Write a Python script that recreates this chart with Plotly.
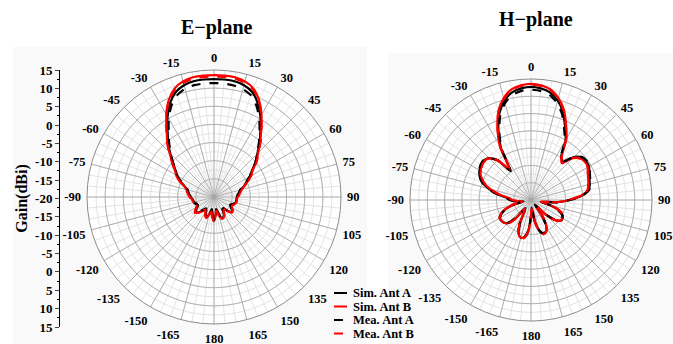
import plotly.graph_objects as go

# ---------------- data ----------------
angles = list(range(-180, 181, 5))

# E-plane gains (dBi)
e_sim_a = [-13.8, -15.2, -16.6, -15.2, -14.0, -14.6, -15.8, -16.2, -15.2, -14.0, -13.5, -14.1, -14.8, -15.0, -14.8, -14.4, -14.2, -14.0, -13.6, -13.2, -12.9, -12.4, -11.4, -9.9, -8.4, -7.0, -5.3, -2.9, -0.4, 2.3, 5.6, 8.6, 10.8, 11.9, 12.4, 12.5, 12.5, 12.5, 12.4, 11.9, 10.8, 8.5, 5.6, 2.3, -0.5, -3.1, -5.1, -7.2, -8.6, -10.1, -11.2, -12.4, -13.0, -13.4, -13.7, -13.8, -13.8, -13.9, -14.4, -14.9, -14.7, -14.0, -13.6, -14.4, -16.0, -15.8, -14.6, -13.9, -13.8, -15.2, -16.6, -15.0, -13.8]
e_sim_b = [-13.4, -14.6, -16.2, -15.0, -13.8, -14.3, -15.6, -15.9, -14.9, -13.8, -13.3, -13.9, -14.6, -14.9, -14.6, -14.2, -14.0, -13.8, -13.4, -13.0, -12.7, -12.2, -11.2, -9.6, -8.1, -6.7, -5.0, -2.6, 0.0, 2.8, 6.3, 9.5, 11.8, 13.0, 13.5, 13.6, 13.6, 13.6, 13.5, 13.0, 11.8, 9.4, 6.2, 2.7, -0.2, -2.8, -4.8, -6.9, -8.3, -9.8, -11.0, -12.2, -12.8, -13.2, -13.5, -13.6, -13.6, -13.7, -14.2, -14.7, -14.5, -13.8, -13.4, -14.2, -15.8, -15.6, -14.4, -13.7, -13.6, -15.0, -16.4, -14.8, -13.4]
e_mea_a = [-13.6, -15.0, -16.4, -15.4, -14.2, -14.4, -15.6, -16.0, -15.4, -14.2, -13.4, -13.8, -14.5, -15.0, -14.6, -14.1, -14.3, -13.7, -13.8, -13.1, -12.6, -12.5, -11.3, -10.0, -8.2, -7.1, -5.2, -3.2, -0.8, 1.8, 4.9, 7.8, 9.8, 10.9, 11.3, 11.4, 11.4, 11.4, 11.2, 10.8, 9.8, 7.7, 4.9, 1.9, -0.8, -3.3, -5.0, -7.3, -8.5, -10.2, -11.0, -12.6, -12.9, -13.5, -13.5, -14.0, -13.7, -14.1, -14.2, -15.1, -14.6, -14.1, -13.5, -14.6, -15.8, -16.0, -14.4, -14.1, -13.7, -15.4, -16.5, -15.2, -13.6]
e_mea_b = [-13.2, -14.4, -16.0, -15.1, -13.6, -14.1, -15.4, -15.8, -15.0, -13.6, -13.1, -13.7, -14.4, -14.7, -14.5, -14.0, -13.9, -13.6, -13.3, -12.9, -12.5, -12.0, -11.0, -9.4, -7.9, -6.5, -4.8, -2.4, 0.2, 2.9, 6.2, 9.3, 11.5, 12.6, 13.1, 13.2, 13.2, 13.2, 13.1, 12.6, 11.5, 9.2, 6.1, 2.8, 0.0, -2.6, -4.6, -6.7, -8.1, -9.6, -10.8, -12.0, -12.6, -13.0, -13.3, -13.4, -13.4, -13.5, -14.0, -14.5, -14.3, -13.6, -13.2, -14.0, -15.6, -15.4, -14.2, -13.5, -13.4, -14.8, -16.2, -14.6, -13.2]

# H-plane gains (dBi)
h_sim_a = [-15.5, -11.2, -9.2, -8.7, -9.6, -12.2, -16.4, -17.2, -13.2, -10.6, -9.8, -9.5, -9.5, -10.4, -12.1, -14.8, -17.8, -15.8, -14.0, -13.0, -10.0, -7.3, -5.0, -3.6, -2.8, -2.3, -2.2, -2.9, -5.1, -9.5, -2.6, 2.3, 6.7, 9.7, 11.6, 12.4, 12.7, 12.4, 11.6, 9.8, 7.0, 3.3, 0.0, -4.8, -5.6, -2.4, -0.9, -0.5, -0.6, -1.4, -2.0, -2.4, -3.0, -5.2, -8.8, -12.5, -17.2, -14.2, -11.6, -10.0, -9.4, -9.5, -11.1, -14.3, -18.3, -14.2, -11.1, -9.8, -9.5, -10.9, -13.7, -17.8, -15.5]
h_sim_b = [-15.0, -11.0, -9.0, -8.6, -9.5, -12.0, -16.0, -17.0, -13.0, -10.5, -9.8, -9.6, -9.6, -10.5, -12.0, -14.5, -17.5, -16.0, -14.5, -13.5, -10.5, -7.8, -5.5, -4.0, -3.2, -2.6, -2.4, -3.0, -5.0, -9.0, -2.0, 3.0, 7.5, 10.5, 12.5, 13.3, 13.6, 13.3, 12.5, 10.6, 7.8, 4.0, 0.5, -4.5, -6.0, -2.8, -1.3, -0.9, -1.0, -1.8, -2.4, -2.8, -3.3, -5.5, -9.0, -12.6, -17.0, -14.0, -11.5, -10.0, -9.5, -9.6, -11.0, -14.0, -18.0, -14.0, -11.0, -9.8, -9.6, -10.8, -13.5, -17.5, -15.0]
h_mea_a = [-15.2, -11.0, -9.0, -8.8, -9.8, -12.4, -16.0, -16.8, -13.4, -10.8, -9.9, -9.6, -9.7, -10.6, -12.3, -14.6, -17.4, -15.5, -13.8, -12.8, -9.8, -7.1, -4.9, -3.5, -2.7, -2.2, -2.1, -2.8, -5.0, -9.8, -3.0, 1.7, 6.0, 9.0, 10.9, 11.7, 11.9, 11.7, 10.9, 9.1, 6.3, 2.7, -0.5, -5.0, -5.4, -2.2, -0.7, -0.3, -0.4, -1.2, -1.8, -2.3, -2.9, -5.0, -8.6, -12.3, -17.0, -14.4, -11.8, -10.2, -9.5, -9.7, -11.3, -14.5, -18.0, -14.4, -11.3, -10.0, -9.7, -11.0, -13.8, -17.4, -15.2]
h_mea_b = [-14.8, -10.8, -8.9, -8.5, -9.4, -11.9, -15.8, -16.8, -12.8, -10.4, -9.7, -9.5, -9.5, -10.4, -11.9, -14.3, -17.2, -16.2, -14.6, -13.6, -10.6, -7.9, -5.6, -4.1, -3.3, -2.7, -2.5, -3.1, -5.1, -9.2, -2.1, 2.9, 7.3, 10.3, 12.3, 13.1, 13.4, 13.1, 12.3, 10.4, 7.6, 3.8, 0.3, -4.6, -6.1, -2.9, -1.4, -1.0, -1.1, -1.9, -2.5, -2.9, -3.4, -5.6, -9.1, -12.7, -17.1, -13.9, -11.4, -9.9, -9.4, -9.5, -10.9, -13.9, -17.8, -13.9, -10.9, -9.7, -9.5, -10.7, -13.4, -17.2, -14.8]

series_names = ["Sim. Ant A", "Sim. Ant B", "Mea. Ant A", "Mea. Ant B"]
series_colors = ["#000000", "#ff0000", "#000000", "#ff0000"]
series_dash = ["solid", "solid", "dash", "dash"]

r_min, r_max = -20, 15
major_r = list(range(-15, 15, 5))
minor_r = [x / 2 for x in range(-35, 31, 5)]
angle_ticks = list(range(0, 360, 5))
angle_text = [(str(a) if a <= 180 else str(a - 360)) if a % 15 == 0 else "" for a in angle_ticks]
gain_tick_pos = list(range(-35, 36, 5))
gain_tick_text = [str(r_min + abs(p)) for p in gain_tick_pos]

FONT = "Liberation Serif"
W, H = 673, 344

fig = go.Figure()

def add_grid(sub):
    circ = [t for t in range(0, 361, 2)]
    for rv in major_r:
        fig.add_trace(go.Scatterpolar(r=[rv] * len(circ), theta=circ, mode="lines",
                                      line=dict(color="#a4a4a4", width=0.8),
                                      hoverinfo="skip", showlegend=False, subplot=sub))
    for a in range(0, 360, 15):
        fig.add_trace(go.Scatterpolar(r=[r_min, r_max], theta=[a, a], mode="lines",
                                      line=dict(color="#a4a4a4", width=0.8),
                                      hoverinfo="skip", showlegend=False, subplot=sub))

add_grid("polar")
add_grid("polar2")

e_series = [e_sim_a, e_sim_b, e_mea_a, e_mea_b]
h_series = [h_sim_a, h_sim_b, h_mea_a, h_mea_b]
for vals, name, col, dash in zip(e_series, series_names, series_colors, series_dash):
    fig.add_trace(go.Scatterpolar(r=vals, theta=angles, mode="lines", name=name,
                                  line=dict(color=col, width=2.2, dash=dash, shape="spline", smoothing=0.6),
                                  showlegend=False, subplot="polar"))
for vals, name, col, dash in zip(h_series, series_names, series_colors, series_dash):
    fig.add_trace(go.Scatterpolar(r=vals, theta=angles, mode="lines", name=name,
                                  line=dict(color=col, width=2.2, dash=dash, shape="spline", smoothing=0.6),
                                  showlegend=False, subplot="polar2"))

# dummy trace for the left gain axis
fig.add_trace(go.Scatter(x=[0], y=[0], mode="markers", marker=dict(opacity=0),
                         hoverinfo="skip", showlegend=False, xaxis="x", yaxis="y"))

def polar_layout(cx, cy, rad):
    return dict(
        domain=dict(x=[(cx - rad) / W, (cx + rad) / W], y=[(H - cy - rad) / H, (H - cy + rad) / H]),
        bgcolor="white",
        radialaxis=dict(range=[r_min, r_max], tickvals=minor_r, showticklabels=False, ticks="",
                        showline=False, gridcolor="#e4e4e4", gridwidth=0.8),
        angularaxis=dict(rotation=90, direction="clockwise", tickmode="array",
                         tickvals=angle_ticks, ticktext=angle_text,
                         ticks="outside", ticklen=3, tickcolor="rgba(0,0,0,0)",
                         showline=True, linecolor="#8c8c8c", linewidth=1,
                         gridcolor="#e4e4e4", gridwidth=0.8,
                         tickfont=dict(family=FONT, size=12.5, color="black", weight="bold")),
    )

fig.update_layout(
    width=W, height=H, margin=dict(l=0, r=0, t=0, b=0, pad=0, autoexpand=False),
    paper_bgcolor="white", plot_bgcolor="rgba(0,0,0,0)",
    font=dict(family=FONT, color="black"),
    polar=polar_layout(214, 197, 127),
    polar2=polar_layout(531, 200, 121),
    xaxis=dict(domain=[60 / W, 61 / W], visible=False, range=[0, 1], automargin=False),
    yaxis=dict(domain=[17 / H, 274 / H], anchor="x", range=[-35, 35], side="left", automargin=False,
               showline=True, linecolor="black", linewidth=1, showgrid=False, zeroline=False,
               ticks="outside", ticklen=4, tickvals=gain_tick_pos, ticktext=gain_tick_text,
               minor=dict(dtick=2.5, tick0=0, ticks="outside", ticklen=2, tickcolor="black"),
               tickfont=dict(family=FONT, size=13, weight="bold"),
               title=dict(text="Gain(dBi)", font=dict(family=FONT, size=16, weight="bold"), standoff=3)),
    showlegend=False,
)

# faint background panels
fig.add_shape(type="rect", xref="paper", yref="paper", x0=13 / W, x1=367 / W, y0=0, y1=(H - 47) / H,
              fillcolor="#f9f9f9", line=dict(width=0), layer="below")
fig.add_shape(type="rect", xref="paper", yref="paper", x0=388 / W, x1=1, y0=0, y1=(H - 53) / H,
              fillcolor="#f9f9f9", line=dict(width=0), layer="below")

# titles
fig.add_annotation(text="E\u2212plane", x=217 / W, y=(H - 27) / H, xref="paper", yref="paper",
                   xanchor="center", yanchor="middle",
                   showarrow=False, font=dict(family=FONT, size=20, weight="bold"))
fig.add_annotation(text="H\u2212plane", x=536 / W, y=(H - 20) / H, xref="paper", yref="paper",
                   xanchor="center", yanchor="middle",
                   showarrow=False, font=dict(family=FONT, size=20, weight="bold"))

# legend (drawn as keys + text)
leg_y = [293, 306.5, 320, 333.5]
for name, col, dash, ly in zip(series_names, series_colors, series_dash, leg_y):
    fig.add_shape(type="line", xref="paper", yref="paper", x0=334 / W, x1=347 / W,
                  y0=(H - ly) / H, y1=(H - ly) / H, line=dict(color=col, width=2, dash=dash))
    fig.add_annotation(text=name, x=351 / W, y=(H - ly) / H, xref="paper", yref="paper",
                       xanchor="left", yanchor="middle", showarrow=False,
                       font=dict(family=FONT, size=12.5, weight="bold"))

fig.write_html("out.html")
